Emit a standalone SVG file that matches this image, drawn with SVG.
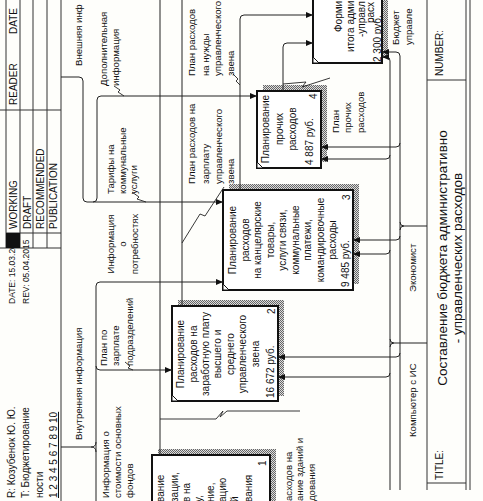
<svg xmlns="http://www.w3.org/2000/svg" width="483" height="501" viewBox="0 0 483 501">
<defs>
<style>
.t{font-family:"Liberation Sans",Arial,sans-serif;font-size:10px;fill:#111}
.l{font-size:9.6px}
.s9{font-size:8.5px}
.m{text-anchor:middle}
.ti{font-size:13.5px}
.ln{fill:none;stroke:#222;stroke-width:1}
.fr{fill:none;stroke:#333;stroke-width:1}
.bx{fill:#fff;stroke:#111;stroke-width:2}
.sh{fill:url(#hp)}
.sq{fill:none;stroke:#222;stroke-width:0.9}
</style>
<pattern id="hp" width="2" height="2" patternUnits="userSpaceOnUse"><rect width="2" height="2" fill="#ddd"/><rect width="1" height="1" fill="#666"/><rect x="1" y="1" width="1" height="1" fill="#666"/></pattern>
<marker id="ar" viewBox="0 0 7 6" refX="7" refY="3" markerWidth="7" markerHeight="6" orient="auto" markerUnits="userSpaceOnUse"><path d="M0,0L7,3L0,6z" fill="#111"/></marker>
</defs>
<rect width="483" height="501" fill="#fefefb"/>
<g id="frame">
<path class="fr" d="M6,0V248M20,0V248M33,0V248M47,0V248M61,0V501M0,110H61M6,233H61M0,248H61"/>
<rect x="6" y="233" width="14" height="15" fill="#111"/>
<path class="fr" d="M427,0V490M466,0V490M470,0V490M427,80H466M427,483H466"/>
<text class="t" transform="translate(17,34) rotate(-90)">DATE</text>
<text class="t" transform="translate(17,105) rotate(-90)">READER</text>
<text class="t" transform="translate(17,229) rotate(-90)">WORKING</text>
<text class="t" transform="translate(31,229) rotate(-90)">DRAFT</text>
<text class="t" transform="translate(44,229) rotate(-90)">RECOMMENDED</text>
<text class="t" transform="translate(57,229) rotate(-90)">PUBLICATION</text>
<text class="t s9" transform="translate(15,304) rotate(-90)">DATE: 15.03.2015</text>
<text class="t s9" transform="translate(29,304) rotate(-90)">REV:  05.04.2015</text>
<text class="t" transform="translate(15,498) rotate(-90)">R: Козубенок Ю. Ю.</text>
<text class="t" transform="translate(29,498) rotate(-90)">T: Бюджетирование</text>
<text class="t" transform="translate(43,498) rotate(-90)">ности</text>
<text class="t" transform="translate(57,498) rotate(-90)" text-decoration="underline">1  2  3  4  5  6  7  8  9  10</text>
<text class="t" transform="translate(443,76) rotate(-90)">NUMBER:</text>
<text class="t" transform="translate(443,480) rotate(-90)">TITLE:</text>
<text class="t m ti" transform="translate(447,258) rotate(-90)">Составление бюджета административно</text>
<text class="t m ti" transform="translate(462,258) rotate(-90)">- управленческих расходов</text>
</g>
<g id="node1">
<rect class="sh" x="158" y="449" width="118" height="60"/>
<rect class="bx" x="152" y="455" width="118" height="60"/>
<text class="t" transform="translate(163.5,502) rotate(-90)">вание</text>
<text class="t" transform="translate(177.5,502) rotate(-90)">зации,</text>
<text class="t" transform="translate(189.5,502) rotate(-90)">в на</text>
<text class="t" transform="translate(201.5,502) rotate(-90)">у,</text>
<text class="t" transform="translate(213.5,502) rotate(-90)">ние,</text>
<text class="t" transform="translate(225.5,502) rotate(-90)">ацию</text>
<text class="t" transform="translate(237.5,502) rotate(-90)">й</text>
<text class="t" transform="translate(251.5,502) rotate(-90)">вания</text>
<text class="t" transform="translate(266,466) rotate(-90)">1</text>
</g>
<g id="node2">
<rect class="sh" x="178" y="300" width="106" height="96"/>
<path class="bx" d="M172,306H278V401H172Z"/>
<path d="M172,395L178,401H172Z" fill="#fff" stroke="#111" stroke-width="1"/>
<text class="t m" transform="translate(183.5,354) rotate(-90)">Планирование</text>
<text class="t m" transform="translate(196.5,354) rotate(-90)">расходов на</text>
<text class="t m" transform="translate(208.5,354) rotate(-90)">заработную плату</text>
<text class="t m" transform="translate(220.5,354) rotate(-90)">высшего и</text>
<text class="t m" transform="translate(233.5,354) rotate(-90)">среднего</text>
<text class="t m" transform="translate(245.5,354) rotate(-90)">управленческого</text>
<text class="t m" transform="translate(258.5,354) rotate(-90)">звена</text>
<text class="t" transform="translate(273.5,398) rotate(-90)">16 672 руб.</text>
<text class="t" transform="translate(274.5,314) rotate(-90)">2</text>
</g>
<g id="node3">
<rect class="sh" x="229" y="184" width="130" height="100"/>
<path class="bx" d="M223,190H353V290H223Z"/>
<path d="M223,284L229,290H223Z" fill="#fff" stroke="#111" stroke-width="1"/>
<text class="t m" transform="translate(235.5,240) rotate(-90)">Планирование</text>
<text class="t m" transform="translate(248.5,240) rotate(-90)">расходов</text>
<text class="t m" transform="translate(261,240) rotate(-90)">на канцелярские</text>
<text class="t m" transform="translate(273.5,240) rotate(-90)">товары,</text>
<text class="t m" transform="translate(286,240) rotate(-90)">услуги связи,</text>
<text class="t m" transform="translate(298.5,240) rotate(-90)">коммунальные</text>
<text class="t m" transform="translate(311,240) rotate(-90)">платежи,</text>
<text class="t m" transform="translate(323.5,240) rotate(-90)">командировочные</text>
<text class="t m" transform="translate(336,240) rotate(-90)">расходы</text>
<text class="t" transform="translate(348.5,287) rotate(-90)">9 485 руб.</text>
<text class="t" transform="translate(350,200) rotate(-90)">3</text>
</g>
<g id="node4">
<rect class="sh" x="263" y="85" width="64" height="77"/>
<path class="bx" d="M257,91H321V168H257Z"/>
<path d="M257,162L263,168H257Z" fill="#fff" stroke="#111" stroke-width="1"/>
<text class="t m" transform="translate(268.5,129) rotate(-90)">Планирование</text>
<text class="t m" transform="translate(282.5,129) rotate(-90)">прочих</text>
<text class="t m" transform="translate(295.5,129) rotate(-90)">расходов</text>
<text class="t" transform="translate(313,165) rotate(-90)">4 887 руб.</text>
<text class="t" transform="translate(317,99) rotate(-90)">4</text>
</g>
<g id="node5">
<rect class="sh" x="319" y="-16" width="69" height="74"/>
<path class="bx" d="M313,-10H382V63H313Z"/>
<path d="M313,57L319,63H313Z" fill="#fff" stroke="#111" stroke-width="1"/>
<text class="t" transform="translate(342,32) rotate(-90)">Форми</text>
<text class="t" transform="translate(354,52) rotate(-90)">итога адми</text>
<text class="t" transform="translate(365,37) rotate(-90)">-управл</text>
<text class="t" transform="translate(374,23) rotate(-90)">расх</text>
<text class="t" transform="translate(380.5,62) rotate(-90)">2 300 руб.</text>
</g>
<g id="connectors">
<path class="ln" marker-end="url(#ar)" d="M61,77H79Q83,77 83,81V198Q83,202 87,202H223"/>
<path class="ln" marker-end="url(#ar)" d="M93,202Q97,202 97,198V100Q97,96 101,96H257"/>
<path class="ln" d="M61,447H91Q96,447 96,442M91,447Q96,447 96,452"/>
<path class="ln" marker-end="url(#ar)" d="M96,501V286Q96,282 100,282H223"/>
<path class="ln" marker-end="url(#ar)" d="M96,366Q96,370 100,370H172"/>
<path class="ln" d="M160,455V0"/>
<path class="ln" d="M182,306V0"/>
<path class="ln" marker-end="url(#ar)" d="M240,190V19Q240,15 244,15H313"/>
<path class="ln" marker-end="url(#ar)" d="M283,91V47Q283,43 287,43H313"/>
<path class="ln" d="M427,226H404Q400,226 400,222M404,226Q400,226 400,230"/>
<path class="ln" marker-end="url(#ar)" d="M400,490V56Q400,52 396,52H382"/>
<path class="ln" marker-end="url(#ar)" d="M400,143Q400,147 396,147H321"/>
<path class="ln" marker-end="url(#ar)" d="M400,236Q400,240 396,240H353"/>
<path class="ln" marker-end="url(#ar)" d="M400,353Q400,357 396,357H278"/>
<path class="ln" d="M427,343H394Q390,343 390,339M394,343Q390,343 390,347"/>
<path class="ln" marker-end="url(#ar)" d="M390,490V61Q390,57 387,57H382"/>
<path class="ln" marker-end="url(#ar)" d="M390,155Q390,159 386,159H321"/>
<path class="ln" marker-end="url(#ar)" d="M390,250Q390,254 386,254H353"/>
<path class="ln" marker-end="url(#ar)" d="M390,373Q390,377 386,377H278"/>
<path class="sq" d="M114,86L120,90L118,92L124,96"/>
<path class="sq" d="M132,192L139,197L137,199L146,202"/>
<path class="sq" d="M125,362L130,366L128,368L133,370"/>
<path class="sq" d="M182,243L200,214L205,216L224,187"/>
<path class="sq" d="M233,74L238,79L236,81L240,85"/>
<path class="sq" d="M283,84L306,82L302,87L330,78"/>
<path class="sq" d="M160,419H216L223,411L220,417L227,411H300"/>
</g>
<g id="labels">
<text class="t l" transform="translate(81.5,66) rotate(-90)">Внешняя инф</text>
<text class="t l" transform="translate(107,86) rotate(-90)">Дополнительная</text>
<text class="t l" transform="translate(119,86) rotate(-90)">информация</text>
<text class="t l" transform="translate(113.5,194) rotate(-90)">Тарифы на</text>
<text class="t l" transform="translate(125.5,194) rotate(-90)">коммунальные</text>
<text class="t l" transform="translate(136.5,194) rotate(-90)">услуги</text>
<text class="t l m" transform="translate(113.5,244) rotate(-90)">Информация</text>
<text class="t l m" transform="translate(125.5,244) rotate(-90)">о</text>
<text class="t l m" transform="translate(137.5,244) rotate(-90)">потребностях</text>
<text class="t l" transform="translate(81.5,440) rotate(-90)">Внутренняя информация</text>
<text class="t l" transform="translate(107,366) rotate(-90)">План по</text>
<text class="t l" transform="translate(119,366) rotate(-90)">зарплате</text>
<text class="t l" transform="translate(133,366) rotate(-90)">подразделений</text>
<text class="t l" transform="translate(108.5,498) rotate(-90)">Информация о</text>
<text class="t l" transform="translate(120.5,498) rotate(-90)">стоимости основных</text>
<text class="t l" transform="translate(132.5,498) rotate(-90)">фондов</text>
<text class="t l" transform="translate(194.5,184) rotate(-90)">План расходов на</text>
<text class="t l" transform="translate(208.5,184) rotate(-90)">зарплату</text>
<text class="t l" transform="translate(221.5,184) rotate(-90)">управленческого</text>
<text class="t l" transform="translate(233.5,184) rotate(-90)">звена</text>
<text class="t l" transform="translate(194.5,76) rotate(-90)">План расходов</text>
<text class="t l" transform="translate(208.5,76) rotate(-90)">на нужды</text>
<text class="t l" transform="translate(220.5,76) rotate(-90)">управленческого</text>
<text class="t l" transform="translate(233.5,76) rotate(-90)">звена</text>
<text class="t l" transform="translate(338.5,133) rotate(-90)">План</text>
<text class="t l" transform="translate(350.5,133) rotate(-90)">прочих</text>
<text class="t l" transform="translate(363.5,133) rotate(-90)">расходов</text>
<text class="t l" transform="translate(398.5,45) rotate(-90)">Бюджет</text>
<text class="t l" transform="translate(411.5,45) rotate(-90)">управле</text>
<text class="t l" transform="translate(416,292) rotate(-90)">Экономист</text>
<text class="t l" transform="translate(416,437) rotate(-90)">Компьютер с ИС</text>
<text class="t l" transform="translate(291.5,501) rotate(-90)">асходов на</text>
<text class="t l" transform="translate(303,501) rotate(-90)">ание зданий и</text>
<text class="t l" transform="translate(314.5,501) rotate(-90)">дования</text>
</g>
</svg>
